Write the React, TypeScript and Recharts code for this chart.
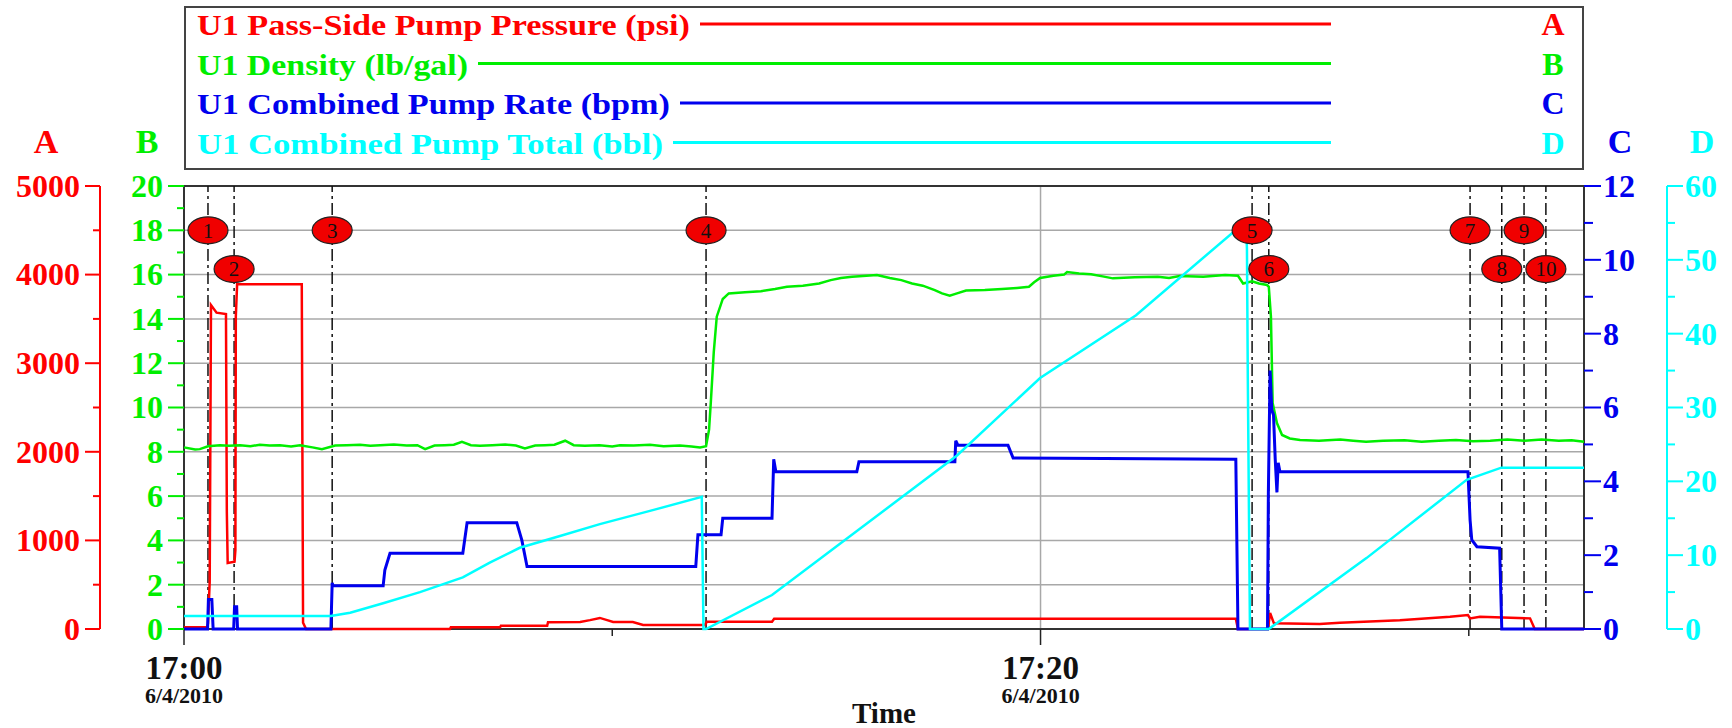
import React from 'react';
import {
  ComposedChart,
  Line,
  XAxis,
  YAxis,
  CartesianGrid,
  ReferenceLine,
  ReferenceDot,
  ReferenceArea,
  Legend,
} from 'recharts';

const FONT = "'Liberation Serif', 'Times New Roman', serif";

// time axis is in minutes after 17:00 on 6/4/2010
const T_END = 32.69;
const HOUR = 17;
const DATE_LABEL = '6/4/2010';
const timeTicks = [0, 10, 20, 30];

const seriesNames = [
  'U1 Pass-Side Pump Pressure (psi)',
  'U1 Density (lb/gal)',
  'U1 Combined Pump Rate (bpm)',
  'U1 Combined Pump Total (bbl)',
];
const seriesColors = ['#ff0000', '#00ee00', '#0000ee', '#00ffff'];
const axisLetters = ['A', 'B', 'C', 'D'];

const pressureTicks = [0, 500, 1000, 1500, 2000, 2500, 3000, 3500, 4000, 4500, 5000];
const densityTicks = [0, 1, 2, 3, 4, 5, 6, 7, 8, 9, 10, 11, 12, 13, 14, 15, 16, 17, 18, 19, 20];
const rateTicks = [0, 1, 2, 3, 4, 5, 6, 7, 8, 9, 10, 11, 12];
const totalTicks = [0, 5, 10, 15, 20, 25, 30, 35, 40, 45, 50, 55, 60];
const densityGrid = [2, 4, 6, 8, 10, 12, 14, 16, 18];

// [minute, psi]
const pressurePts: [number, number][] = [
  [0, 20], [0.54, 20], [0.56, 60], [0.6, 530], [0.63, 3657], [0.76, 3570], [0.98, 3555],
  [1.0, 1324], [1.02, 745], [1.18, 760], [1.2, 890], [1.21, 3525], [1.24, 3890], [2.75, 3890],
  [2.78, 70], [2.85, 0], [6.21, 0], [6.23, 19], [7.38, 19], [7.4, 37], [8.48, 37], [8.5, 76],
  [9.25, 80], [9.48, 100], [9.71, 125], [9.88, 100], [10.02, 79], [10.48, 79], [10.72, 45],
  [12.16, 45], [12.21, 82], [13.73, 82], [13.78, 115], [24.56, 115], [24.61, 0], [25.31, 0],
  [25.36, 180], [25.45, 64], [26.52, 56], [26.99, 71], [28.39, 100], [29.56, 139], [29.98, 158],
  [30.03, 120], [30.26, 139], [31.43, 120], [31.54, 0], [32.69, 0],
];

// [minute, lb/gal]
const densityPts: [number, number][] = [
  [0, 8.2], [0.26, 8.1], [0.37, 8.12], [0.56, 8.25], [0.84, 8.3], [1.05, 8.27], [1.31, 8.3],
  [1.55, 8.25], [1.77, 8.32], [2.0, 8.28], [2.24, 8.3], [2.5, 8.24], [2.71, 8.3], [3.0, 8.2],
  [3.22, 8.12], [3.53, 8.28], [3.8, 8.3], [4.11, 8.32], [4.35, 8.27], [4.58, 8.3], [4.9, 8.33],
  [5.2, 8.28], [5.45, 8.3], [5.63, 8.12], [5.85, 8.28], [6.09, 8.3], [6.3, 8.32], [6.49, 8.45],
  [6.7, 8.3], [6.91, 8.27], [7.2, 8.3], [7.5, 8.33], [7.75, 8.28], [7.96, 8.15], [8.2, 8.28],
  [8.43, 8.3], [8.65, 8.32], [8.9, 8.5], [9.1, 8.3], [9.36, 8.27], [9.7, 8.3], [10.0, 8.24],
  [10.18, 8.3], [10.5, 8.28], [10.88, 8.32], [11.2, 8.25], [11.58, 8.28], [11.85, 8.24],
  [12.05, 8.2], [12.19, 8.25], [12.26, 9.0], [12.3, 10.2], [12.37, 12.5], [12.44, 14.1],
  [12.58, 14.9], [12.72, 15.15], [13.1, 15.2], [13.47, 15.25], [13.8, 15.35], [14.08, 15.45],
  [14.45, 15.5], [14.83, 15.6], [15.1, 15.75], [15.34, 15.85], [15.6, 15.9], [15.85, 15.94],
  [16.18, 15.98], [16.48, 15.85], [16.75, 15.75], [17.0, 15.6], [17.25, 15.5], [17.53, 15.3],
  [17.7, 15.15], [17.88, 15.05], [18.05, 15.15], [18.26, 15.28], [18.7, 15.3], [19.1, 15.35],
  [19.45, 15.4], [19.73, 15.45], [19.85, 15.65], [19.99, 15.85], [20.3, 15.95], [20.55, 16.0],
  [20.62, 16.12], [20.9, 16.05], [21.18, 16.02], [21.45, 15.92], [21.69, 15.83], [22.2, 15.88],
  [22.74, 15.9], [23.0, 15.85], [23.25, 15.94], [23.8, 15.9], [24.31, 15.98], [24.61, 15.95],
  [24.73, 15.6], [24.94, 15.7], [25.1, 15.6], [25.29, 15.53], [25.33, 15.45], [25.38, 14.1],
  [25.42, 10.2], [25.52, 9.3], [25.64, 8.76], [25.82, 8.6], [26.06, 8.53], [26.5, 8.5],
  [27.0, 8.55], [27.3, 8.5], [27.6, 8.45], [28.0, 8.5], [28.5, 8.52], [28.9, 8.45], [29.3, 8.5],
  [29.7, 8.53], [30.1, 8.48], [30.5, 8.5], [30.9, 8.55], [31.3, 8.5], [31.7, 8.55], [32.1, 8.5],
  [32.4, 8.52], [32.69, 8.45],
];

// [minute, bpm]
const ratePts: [number, number][] = [
  [0, 0], [0.55, 0], [0.57, 0.8], [0.65, 0.8], [0.68, 0], [1.16, 0], [1.18, 0.6], [1.23, 0.6],
  [1.25, 0], [3.43, 0], [3.46, 1.25], [3.48, 1.17], [4.65, 1.17], [4.69, 1.6], [4.81, 2.05],
  [6.51, 2.05], [6.61, 2.88], [7.77, 2.88], [7.89, 2.4], [8.01, 1.69], [11.95, 1.69], [12.0, 2.55],
  [12.54, 2.55], [12.58, 3.0], [13.73, 3.0], [13.77, 4.6], [13.82, 4.26], [15.71, 4.26],
  [15.76, 4.53], [18.0, 4.53], [18.02, 5.1], [18.07, 4.98], [19.24, 4.98], [19.36, 4.63],
  [24.56, 4.6], [24.61, 0], [25.3, 0], [25.32, 3.7], [25.36, 7.0], [25.4, 5.93], [25.44, 5.8],
  [25.48, 4.6], [25.52, 3.7], [25.55, 4.5], [25.59, 4.26], [29.98, 4.26], [30.03, 2.95],
  [30.07, 2.41], [30.19, 2.23], [30.72, 2.19], [30.77, 0], [32.69, 0],
];

// [minute, bbl]
const totalPts: [number, number][] = [
  [0, 1.76], [3.43, 1.76], [3.46, 1.8], [3.88, 2.2], [4.65, 3.48], [5.51, 5.0], [6.51, 7.0],
  [7.14, 9.0], [7.84, 11.0], [8.78, 12.6], [9.71, 14.2], [10.88, 16.0], [12.09, 17.9],
  [12.13, 0], [12.19, 0], [13.73, 4.6], [18.05, 23.5], [19.99, 34.0], [22.23, 42.5],
  [24.47, 53.6], [24.8, 54.5], [24.82, 51.5], [24.84, 34], [24.89, 0], [25.33, 0], [27.61, 9.6],
  [29.95, 20.2], [30.76, 21.85], [32.69, 21.85],
];

// numbered event markers
const eventTimes = [0.56, 1.17, 3.46, 12.19, 24.94, 25.33, 30.03, 30.77, 31.29, 31.8];
const eventRows = [18, 16.25, 18, 18, 18, 16.25, 18, 16.25, 18, 16.25];

const toRows = (pts: [number, number][]) => pts.map(([t, v]) => ({ t, v }));

const legendTextWidths = [493, 271, 473, 466];

const yTick =
  (side: 'left' | 'right', color: string, majorStep: number, majorLen: number, minorLen: number, gap: number) =>
  (props: any) => {
    const { x, y, payload } = props;
    const v = payload.value;
    const major = Math.abs(v % majorStep) < 1e-9;
    const dir = side === 'left' ? -1 : 1;
    return (
      <g>
        <line x1={x} y1={y} x2={x + dir * (major ? majorLen : minorLen)} y2={y} stroke={color} strokeWidth={2} />
        {major && (
          <text
            x={x + dir * gap}
            y={y}
            dy="0.34em"
            textAnchor={side === 'left' ? 'end' : 'start'}
            fill={color}
            fontSize={32}
            fontWeight="bold"
            fontFamily={FONT}
          >
            {v}
          </text>
        )}
      </g>
    );
  };

const timeTick = (props: any) => {
  const { x, y, payload } = props;
  const v = payload.value;
  const major = v % 20 === 0;
  return (
    <g>
      <line x1={x} y1={y} x2={x} y2={y + (major ? 16 : 7)} stroke="#222" strokeWidth={1.5} />
      {major && (
        <g fontFamily={FONT} fontWeight="bold" fill="#111" textAnchor="middle">
          <text x={x} y={y + 50} fontSize={33}>{`${HOUR}:${String(v).padStart(2, '0')}`}</text>
          <text x={x} y={y + 74} fontSize={22}>{DATE_LABEL}</text>
        </g>
      )}
    </g>
  );
};

const axisTitle = (letter: string, color: string, dx: number) => (props: any) => {
  const vb = props.viewBox;
  return (
    <text x={vb.x + dx} y={vb.y - 33} textAnchor="middle" fill={color} fontSize={34} fontWeight="bold" fontFamily={FONT}>
      {letter}
    </text>
  );
};

const badge = (n: number) => (p: any) => (
  <g>
    <ellipse cx={p.cx} cy={p.cy} rx={20} ry={13.5} fill="#f00000" stroke="#222" strokeWidth={1.2} />
    <text x={p.cx} y={p.cy} dy="0.35em" textAnchor="middle" fontSize={21} fontFamily={FONT} fill="#111">
      {n}
    </text>
  </g>
);

const renderLegend = () => (
  <svg width={1400} height={180} style={{ display: 'block' }}>
    <rect x={1} y={1} width={1398} height={162} fill="#fff" stroke="#444" strokeWidth={2} />
    {seriesNames.map((name, i) => {
      const base = 29 + i * 39.5;
      const color = seriesColors[i];
      return (
        <g key={name} fontFamily={FONT} fontWeight="bold" fill={color}>
          <text x={13} y={base} fontSize={30} textLength={legendTextWidths[i]} lengthAdjust="spacingAndGlyphs">
            {name}
          </text>
          <line x1={23 + legendTextWidths[i]} x2={1147} y1={base - 11} y2={base - 11} stroke={color} strokeWidth={3} />
          <text x={1369} y={base} fontSize={32} textAnchor="middle">
            {axisLetters[i]}
          </text>
        </g>
      );
    })}
  </svg>
);

export default function App() {
  const series = [pressurePts, densityPts, ratePts, totalPts];
  const axisIds = ['pressure', 'density', 'rate', 'total'];
  const widths = [2.5, 2.5, 3, 2.5];

  return (
    <div style={{ position: 'absolute', left: 0, top: 0, width: 1732, height: 728, background: '#fff' }}>
      <ComposedChart width={1732} height={728} margin={{ top: 6, right: 0, bottom: 0, left: 0 }}>
        <Legend verticalAlign="top" height={180} content={renderLegend} wrapperStyle={{ top: 6, left: 184, width: 1400 }} />
        <XAxis
          type="number"
          dataKey="t"
          domain={[0, T_END]}
          ticks={timeTicks}
          interval={0}
          height={99}
          axisLine={false}
          tickLine={false}
          tickSize={0}
          tickMargin={0}
          tick={timeTick}
          label={{
            content: (p: any) => (
              <text
                x={p.viewBox.x + p.viewBox.width / 2}
                y={p.viewBox.y + 94}
                textAnchor="middle"
                fontSize={29}
                fontWeight="bold"
                fontFamily={FONT}
                fill="#111"
              >
                Time
              </text>
            ),
          }}
        />
        <YAxis
          yAxisId="density"
          orientation="left"
          width={84}
          type="number"
          domain={[0, 20]}
          ticks={densityTicks}
          interval={0}
          axisLine={false}
          tickLine={false}
          tickSize={0}
          tickMargin={0}
          tick={yTick('left', seriesColors[1], 2, 16, 7, 21)}
          label={{ content: axisTitle('B', seriesColors[1], 47) }}
        />
        <YAxis
          yAxisId="pressure"
          orientation="left"
          width={100}
          type="number"
          domain={[0, 5000]}
          ticks={pressureTicks}
          interval={0}
          axisLine={{ stroke: seriesColors[0], strokeWidth: 2 }}
          tickLine={false}
          tickSize={0}
          tickMargin={0}
          tick={yTick('left', seriesColors[0], 1000, 15, 7, 20)}
          label={{ content: axisTitle('A', seriesColors[0], 46) }}
        />
        <YAxis
          yAxisId="rate"
          orientation="right"
          width={83}
          type="number"
          domain={[0, 12]}
          ticks={rateTicks}
          interval={0}
          axisLine={false}
          tickLine={false}
          tickSize={0}
          tickMargin={0}
          tick={yTick('right', seriesColors[2], 2, 17, 9, 19)}
          label={{ content: axisTitle('C', seriesColors[2], 36) }}
        />
        <YAxis
          yAxisId="total"
          orientation="right"
          width={65}
          type="number"
          domain={[0, 60]}
          ticks={totalTicks}
          interval={0}
          axisLine={{ stroke: seriesColors[3], strokeWidth: 2 }}
          tickLine={false}
          tickSize={0}
          tickMargin={0}
          tick={yTick('right', seriesColors[3], 10, 16, 8, 18)}
          label={{ content: axisTitle('D', seriesColors[3], 35) }}
        />
        <CartesianGrid
          yAxisId="density"
          horizontalValues={densityGrid}
          verticalValues={[20]}
          stroke="#a8a8a8"
          strokeWidth={1.5}
        />
        <ReferenceArea x1={0} x2={T_END} y1={0} y2={20} yAxisId="density" fill="none" stroke="#333" strokeWidth={2} />
        {eventTimes.map((t, i) => (
          <ReferenceLine
            key={`ev-${i}`}
            x={t}
            yAxisId="density"
            stroke="#111"
            strokeWidth={1.5}
            strokeDasharray="12 4 3 4"
          />
        ))}
        {series.map((pts, i) => (
          <Line
            key={seriesNames[i]}
            name={seriesNames[i]}
            data={toRows(pts)}
            dataKey="v"
            yAxisId={axisIds[i]}
            type="linear"
            stroke={seriesColors[i]}
            strokeWidth={widths[i]}
            dot={false}
            activeDot={false}
            isAnimationActive={false}
          />
        ))}
        {eventTimes.map((t, i) => (
          <ReferenceDot key={`badge-${i}`} x={t} y={eventRows[i]} yAxisId="density" r={14} shape={badge(i + 1)} />
        ))}
      </ComposedChart>
    </div>
  );
}
